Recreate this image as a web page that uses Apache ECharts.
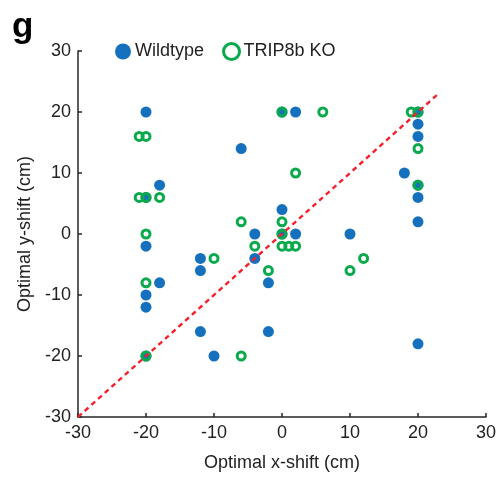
<!DOCTYPE html>
<html>
<head>
<meta charset="utf-8">
<script src="https://cdn.jsdelivr.net/npm/echarts@6/dist/echarts.min.js"></script>
<style>html,body{margin:0;padding:0;background:#fff}#c{width:500px;height:477px}</style>
</head>
<body>
<div id="c"></div>
<script>
const xTicks = [-30, -20, -10, 0, 10, 20, 30];
const yTicks = [-30, -20, -10, 0, 10, 20, 30];
const wildtype = [
  [-20,20],[-18,8],[-20,6],[-20,-2],[-12,-4],[-12,-6],[-18,-8],[-20,-10],[-20,-12],
  [-12,-16],[-20,-20],[-10,-20],[0,20],[2,20],[-6,14],[0,4],[-4,0],[0,0],[2,0],[10,0],
  [-4,-4],[-2,-8],[-2,-16],[20,20],[20,18],[20,16],[18,10],[20,8],[20,6],[20,2],[20,-18]
];
const trip8bKO = [
  [-21,16],[-20,16],[-18,6],[-21,6],[-20,6],[-20,0],[-10,-4],[-20,-8],[-20,-20],[-6,-20],
  [0,20],[6,20],[2,10],[0,2],[-6,2],[0,0],[-4,-2],[0,-2],[1,-2],[2,-2],[12,-4],[-2,-6],
  [10,-6],[19,20],[20,20],[20,14],[20,8]
];
const unityLine = [[-30,-30],[23,23]];

const chart = echarts.init(document.getElementById('c'), null, {renderer:'canvas'});
const txt = '#222';
const font = 'Liberation Sans, Arial, sans-serif';
const axisCommon = {
  min: -30, max: 30, interval: 10,
  axisLine: {show:true, onZero:false, lineStyle:{color:'#262626', width:1.5}},
  axisTick: {show:true, inside:true, length:4, lineStyle:{color:'#262626', width:1.5}},
  splitLine: {show:false},
  axisLabel: {color:txt, fontSize:18, fontFamily:font, margin:7},
  nameLocation: 'middle',
  nameTextStyle: {color:txt, fontSize:18, fontFamily:font}
};
chart.setOption({
  animation: false,
  backgroundColor: '#fff',
  graphic: [{type:'text', left:12, top:10, style:{text:'g', font:'bold 35px Liberation Sans, Arial, sans-serif', fill:'#000'}}],
  grid: {left:78, right:14, top:51, bottom:55},
  legend: {
    left: 110, top: 37, itemWidth: 16, itemHeight: 16, itemGap: 18,
    textStyle: {color:txt, fontSize:18, fontFamily:font, padding:[0,0,0,-1]},
    data: [
      {name:'Wildtype', icon:'circle', itemStyle:{color:'#1570BE', borderWidth:0}},
      {name:'TRIP8b KO', icon:'circle', itemStyle:{color:'#fff', borderColor:'#0AAA4C', borderWidth:3}}
    ]
  },
  xAxis: Object.assign({}, axisCommon, {type:'value', name:'Optimal x-shift (cm)', nameGap:37}),
  yAxis: Object.assign({}, axisCommon, {type:'value', name:'Optimal y-shift (cm)', nameGap:36}),
  series: [
    {name:'Wildtype', type:'scatter', data:wildtype, symbol:'circle', symbolSize:11,
     itemStyle:{color:'#1570BE', opacity:1}, z:2},
    {name:'TRIP8b KO', type:'scatter', data:trip8bKO, symbol:'circle', symbolSize:8,
     itemStyle:{color:'rgba(0,0,0,0)', borderColor:'#0AAA4C', borderWidth:3, opacity:1}, z:3},
    {name:'unity', type:'line', data:unityLine, symbol:'none', silent:true,
     lineStyle:{color:'#F5202A', width:2.4, type:[5,4]}, z:4}
  ]
});
</script>
</body>
</html>
